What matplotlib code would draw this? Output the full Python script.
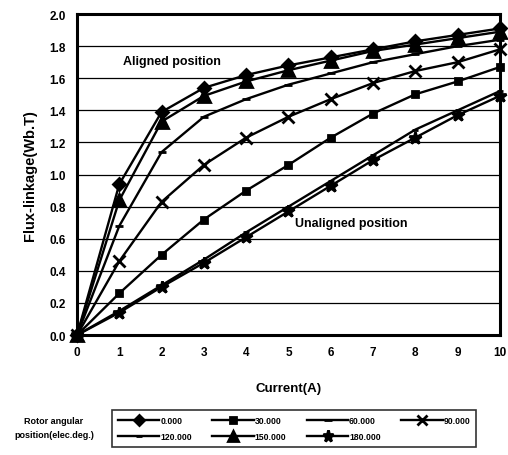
import matplotlib
matplotlib.use('Agg')
import matplotlib.pyplot as plt

plt.rcParams['font.family'] = ['Liberation Sans', 'DejaVu Sans']
plt.rcParams['font.weight'] = 'bold'

# current (A)
current = [0, 1, 2, 3, 4, 5, 6, 7, 8, 9, 10]

# flux-linkage (Wb.T) per rotor angle
flux_0 = [0, 0.94, 1.39, 1.54, 1.62, 1.68, 1.73, 1.78, 1.83, 1.87, 1.91]
flux_150 = [0, 0.84, 1.33, 1.49, 1.58, 1.65, 1.71, 1.77, 1.81, 1.85, 1.89]
flux_60 = [0, 0.68, 1.14, 1.36, 1.47, 1.56, 1.63, 1.70, 1.75, 1.80, 1.84]
flux_90 = [0, 0.46, 0.83, 1.06, 1.23, 1.36, 1.47, 1.57, 1.645, 1.70, 1.78]
flux_30 = [0, 0.26, 0.50, 0.72, 0.90, 1.06, 1.23, 1.38, 1.50, 1.58, 1.67]
flux_120 = [0, 0.15, 0.31, 0.47, 0.64, 0.80, 0.96, 1.12, 1.28, 1.40, 1.52]
flux_180 = [0, 0.14, 0.30, 0.45, 0.61, 0.77, 0.93, 1.09, 1.23, 1.37, 1.49]

labels = ['0.000', '30.000', '60.000', '90.000', '120.000', '150.000', '180.000']
yticks = [0.0, 0.2, 0.4, 0.6, 0.8, 1.0, 1.2, 1.4, 1.6, 1.8, 2.0]

fig = plt.figure(figsize=(5.08, 4.56), dpi=100)
ax = fig.add_axes([0.1516, 0.263, 0.8324, 0.704])

series = [
    (flux_0, 'D', 6, labels[0]),
    (flux_30, 's', 4.5, labels[1]),
    (flux_60, '_', 6, labels[2]),
    (flux_90, 'x', 8, labels[3]),
    (flux_120, '_', 5, labels[4]),
    (flux_150, '^', 8, labels[5]),
    (flux_180, '*', 9, labels[6]),
]

handles = []
for ys, mk, ms, lab in series:
    h, = ax.plot(current, ys, color='black', lw=1.7, marker=mk, ms=ms,
                 mew=2, mfc='black', mec='black', label=lab, clip_on=False)
    handles.append(h)

ax.set_xlim(0, 10)
ax.set_ylim(0, 2.0)
ax.set_xticks(current)
ax.set_yticks(yticks)
ax.set_yticklabels(['%.1f' % v for v in yticks])
ax.tick_params(axis='both', length=0, labelsize=8.5, pad=8)
ax.yaxis.grid(True, color='black', lw=0.9)
ax.set_axisbelow(True)
for sp in ax.spines.values():
    sp.set_linewidth(2.2)

ax.set_xlabel('Current(A)', fontsize=9.5, fontweight='bold', labelpad=17)
ax.set_ylabel('Flux-linkage(Wb.T)', fontsize=10.5, fontweight='bold', labelpad=9)

ax.text(1.08, 1.707, 'Aligned position', fontsize=9, fontweight='bold', va='center')
ax.text(5.15, 0.698, 'Unaligned position', fontsize=9, fontweight='bold', va='center')

# legend row-wise in 4 columns
order = [0, 4, 1, 5, 2, 6, 3]
leg = fig.legend([handles[i] for i in order], [labels[i] for i in order],
                 ncol=4, loc='center', bbox_to_anchor=(0.579, 0.059),
                 fontsize=6.2, frameon=True, fancybox=False, edgecolor='black',
                 handlelength=4.8, handletextpad=0.1, columnspacing=2.4,
                 labelspacing=0.8, borderpad=0.7, markerscale=0.9)
leg.get_frame().set_linewidth(1.2)

fig.text(0.106, 0.061, 'Rotor angular\nposition(elec.deg.)', fontsize=6.5,
         fontweight='bold', ha='center', va='center', linespacing=1.7)

fig.savefig('out.png', dpi=100)
